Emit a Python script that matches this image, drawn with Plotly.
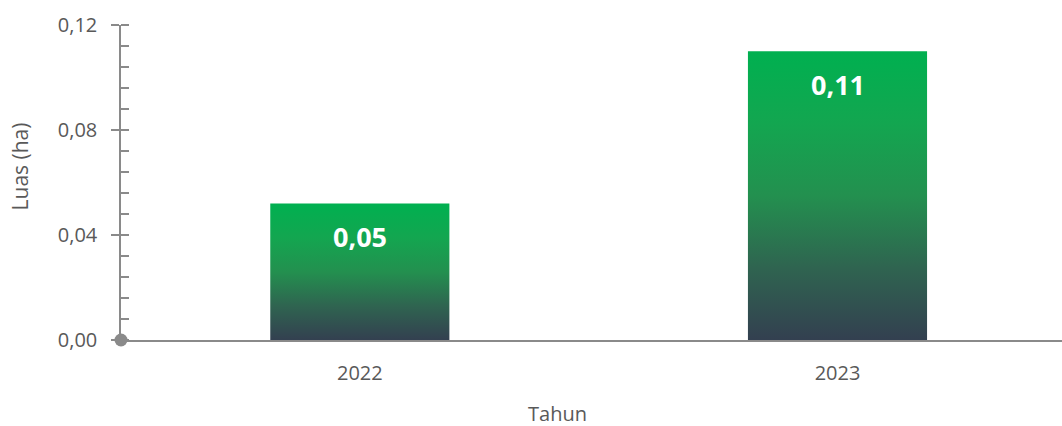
import plotly.graph_objects as go

years = ["2022", "2023"]
luas = [0.052, 0.11]
labels = ["0,05", "0,11"]
y_ticks = [0.0, 0.04, 0.08, 0.12]
y_ticktext = ["0,00", "0,04", "0,08", "0,12"]

bar_width = 0.375
grey = "#8a8a8a"
font = "Open Sans, Segoe UI, sans-serif"
bar_scale = [
    [0, "#334050"],
    [0.25, "#2f6450"],
    [0.5, "#23904f"],
    [0.75, "#13a650"],
    [1, "#00b050"],
]

fig = go.Figure()

# bars drawn as filled shapes so they can carry a vertical gradient
for i, (year, val) in enumerate(zip(years, luas)):
    x0, x1 = i - bar_width / 2, i + bar_width / 2
    fig.add_trace(
        go.Scatter(
            x=[x0, x1, x1, x0, x0],
            y=[0, 0, val, val, 0],
            mode="lines",
            fill="toself",
            line=dict(width=0),
            fillgradient=dict(type="vertical", colorscale=bar_scale, start=0, stop=val),
            hoverinfo="skip",
            showlegend=False,
            name=year,
        )
    )
    fig.add_annotation(
        x=i, y=val, text=f"<b>{labels[i]}</b>", showarrow=False,
        yshift=-33, font=dict(family=font, size=27, color="white"),
    )

# origin dot
fig.add_trace(
    go.Scatter(
        x=[-0.5], y=[0], mode="markers", cliponaxis=False,
        marker=dict(color=grey, size=13), hoverinfo="skip", showlegend=False,
    )
)

fig.update_layout(
    width=1062,
    height=426,
    margin=dict(l=121, r=0, t=25, b=86),
    paper_bgcolor="white",
    plot_bgcolor="white",
    font=dict(family=font, color="#595959"),
    xaxis=dict(
        range=[-0.5, 1.47],
        tickvals=[0, 1],
        ticktext=years,
        tickfont=dict(size=20),
        showgrid=False,
        zeroline=False,
        showline=True,
        linecolor=grey,
        linewidth=2,
        ticks="",
        ticklabelstandoff=14,
    ),
    yaxis=dict(
        range=[0, 0.12],
        tickvals=y_ticks,
        ticktext=y_ticktext,
        tickfont=dict(size=20),
        showgrid=False,
        zeroline=False,
        showline=True,
        linecolor=grey,
        linewidth=1.5,
        ticks="outside",
        ticklen=8,
        tickcolor=grey,
        tickwidth=1.5,
        ticklabelstandoff=10,
        minor=dict(dtick=0.008, ticks="inside", ticklen=8, tickcolor=grey, tickwidth=1.5),
    ),
    yaxis2=dict(
        overlaying="y",
        range=[0, 0.12],
        tickvals=y_ticks,
        showticklabels=False,
        showgrid=False,
        zeroline=False,
        ticks="inside",
        ticklen=8,
        tickcolor=grey,
        tickwidth=1.5,
    ),
    annotations=list(fig.layout.annotations) + [
        dict(text="Luas (ha)", xref="paper", yref="paper", x=-0.107, y=0.552,
             xanchor="center", yanchor="middle",
             textangle=-90, showarrow=False, font=dict(size=21, color="#595959")),
        dict(text="Tahun", xref="paper", yref="paper", x=0.464, y=-0.232,
             xanchor="center", yanchor="middle",
             showarrow=False, font=dict(size=20, color="#595959")),
    ],
)

# dummy trace so yaxis2 is drawn
fig.add_trace(go.Scatter(x=[None], y=[None], yaxis="y2", showlegend=False, hoverinfo="skip"))

fig.write_html(
    "out.html",
    config={"displayModeBar": False},
    post_script="document.body.style.margin='0';",
)
